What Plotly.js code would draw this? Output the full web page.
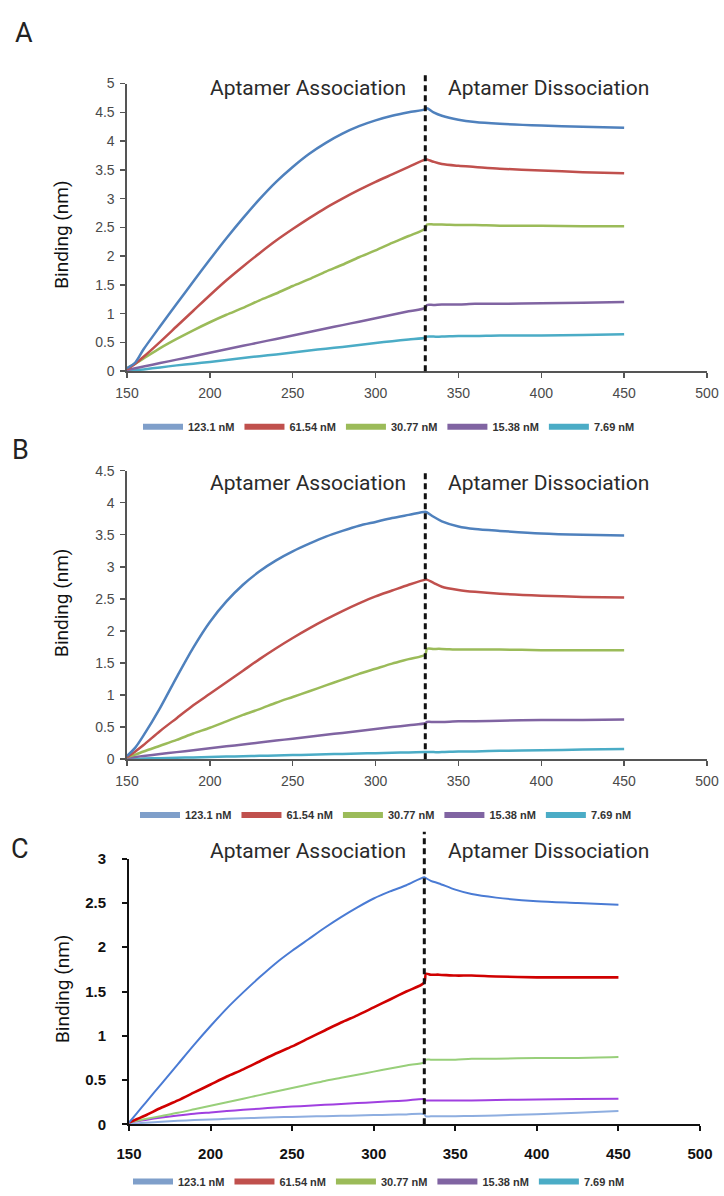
<!DOCTYPE html>
<html>
<head>
<meta charset="utf-8">
<script src="https://cdn.plot.ly/plotly-3.0.1.min.js"></script>
<style>html,body{margin:0;padding:0;background:#fff;}#chart{width:724px;height:1196px;}</style>
</head>
<body>
<div id="chart"></div>
<script>
// ---------- DATA ----------
const seriesNames = ['123.1 nM', '61.54 nM', '30.77 nM', '15.38 nM', '7.69 nM'];

// Panel A
const timeAssocA = [150,155,160,170,180,190,200,210,220,230,240,250,260,270,280,290,300,310,320,330];
const timeDissocA = [331,335,340,350,360,375,400,425,450];
const blueA_assoc   = [0.05,0.15,0.38,0.78,1.17,1.56,1.94,2.31,2.66,2.99,3.29,3.55,3.78,3.97,4.13,4.26,4.36,4.44,4.5,4.55];
const blueA_dissoc  = [4.57,4.5,4.44,4.37,4.33,4.3,4.27,4.25,4.23];
const redA_assoc    = [0.03,0.13,0.25,0.51,0.78,1.05,1.32,1.58,1.82,2.05,2.27,2.47,2.66,2.84,3.0,3.15,3.29,3.42,3.55,3.68];
const redA_dissoc   = [3.68,3.64,3.6,3.57,3.55,3.52,3.49,3.46,3.44];
const greenA_assoc  = [0.05,0.13,0.22,0.4,0.56,0.71,0.85,0.98,1.1,1.23,1.35,1.48,1.6,1.73,1.85,1.98,2.1,2.23,2.35,2.48];
const greenA_dissoc = [2.55,2.55,2.55,2.54,2.54,2.53,2.53,2.52,2.52];
const purpleA_assoc = [0.02,0.05,0.08,0.14,0.2,0.26,0.32,0.38,0.44,0.5,0.56,0.62,0.68,0.74,0.8,0.86,0.92,0.98,1.04,1.1];
const purpleA_dissoc= [1.15,1.15,1.16,1.16,1.17,1.17,1.18,1.19,1.2];
const cyanA_assoc   = [0.0,0.015,0.03,0.065,0.1,0.13,0.16,0.195,0.23,0.26,0.29,0.325,0.36,0.39,0.42,0.455,0.49,0.52,0.55,0.58];
const cyanA_dissoc  = [0.6,0.6,0.6,0.61,0.61,0.62,0.62,0.63,0.64];

// Panel B
const timeAssocB = [150,155,160,170,180,190,200,210,220,230,240,250,260,270,280,290,300,310,320,330];
const timeDissocB = [331,335,340,350,360,375,400,425,450];
const blueB_assoc   = [0.05,0.18,0.37,0.8,1.28,1.74,2.14,2.46,2.72,2.93,3.1,3.24,3.36,3.47,3.56,3.64,3.7,3.76,3.81,3.86];
const blueB_dissoc  = [3.85,3.78,3.71,3.63,3.59,3.56,3.52,3.5,3.49];
const redB_assoc    = [0.03,0.12,0.22,0.44,0.64,0.84,1.02,1.2,1.38,1.56,1.73,1.89,2.04,2.18,2.31,2.43,2.54,2.63,2.72,2.8];
const redB_dissoc   = [2.8,2.75,2.69,2.64,2.61,2.58,2.55,2.53,2.52];
const greenB_assoc  = [0.03,0.07,0.12,0.21,0.3,0.4,0.49,0.59,0.69,0.78,0.88,0.97,1.06,1.15,1.24,1.33,1.41,1.49,1.56,1.63];
const greenB_dissoc = [1.72,1.72,1.72,1.71,1.71,1.71,1.7,1.7,1.7];
const purpleB_assoc = [0.02,0.035,0.05,0.08,0.11,0.14,0.17,0.2,0.23,0.26,0.29,0.32,0.35,0.38,0.41,0.44,0.47,0.5,0.53,0.56];
const purpleB_dissoc= [0.58,0.58,0.58,0.59,0.59,0.6,0.61,0.61,0.62];
const cyanB_assoc   = [0.0,0.005,0.01,0.016,0.022,0.028,0.034,0.04,0.046,0.052,0.058,0.064,0.07,0.076,0.082,0.088,0.094,0.1,0.105,0.11];
const cyanB_dissoc  = [0.11,0.11,0.11,0.12,0.12,0.13,0.14,0.15,0.16];

// Panel C
const timeAssocC = [150,155,160,170,180,190,200,210,220,230,240,250,260,270,280,290,300,310,320,331];
const timeDissocC = [332,335,340,350,360,375,400,425,450];
const blueC_assoc   = [0.02,0.13,0.24,0.46,0.68,0.9,1.11,1.31,1.49,1.66,1.82,1.96,2.09,2.22,2.34,2.45,2.55,2.63,2.7,2.79];
const blueC_dissoc  = [2.78,2.75,2.72,2.65,2.6,2.56,2.52,2.5,2.48];
const redC_assoc    = [0.02,0.06,0.1,0.19,0.27,0.36,0.45,0.54,0.62,0.71,0.8,0.88,0.97,1.06,1.15,1.23,1.32,1.41,1.5,1.6];
const redC_dissoc   = [1.7,1.69,1.69,1.68,1.68,1.67,1.66,1.66,1.66];
const greenC_assoc  = [0.02,0.04,0.06,0.095,0.13,0.17,0.21,0.25,0.29,0.33,0.37,0.41,0.45,0.49,0.525,0.56,0.595,0.63,0.665,0.7];
const greenC_dissoc = [0.73,0.73,0.73,0.73,0.74,0.74,0.75,0.75,0.76];
const purpleC_assoc = [0.02,0.035,0.05,0.077,0.1,0.12,0.135,0.15,0.164,0.177,0.189,0.2,0.21,0.22,0.23,0.24,0.25,0.26,0.27,0.285];
const purpleC_dissoc= [0.27,0.27,0.27,0.27,0.27,0.275,0.28,0.285,0.29];
const lightC_assoc  = [0.0,0.01,0.018,0.03,0.04,0.048,0.055,0.062,0.068,0.074,0.079,0.084,0.088,0.092,0.096,0.1,0.104,0.108,0.112,0.116];
const lightC_dissoc = [0.09,0.09,0.09,0.092,0.095,0.1,0.115,0.13,0.15];

const switchTimes = [330, 330, 331];
const xTicks = [150,200,250,300,350,400,450,500];

// ---------- STYLE ----------
const W = 724, H = 1196;
const fx = p => p / W;
const fy = p => 1 - p / H;
const colorsAB = ['#4f81bd', '#c0504d', '#9bbb59', '#8064a2', '#4bacc6'];
const colorsC  = ['#4a7bd4', '#d00000', '#98cf7a', '#a040e0', '#8eaee0'];
const legendColors = ['#7f9fca', '#c0504d', '#9bbb59', '#8064a2', '#4bacc6'];

const panels = [
  {tA: timeAssocA, tD: timeDissocA, series: [[blueA_assoc,blueA_dissoc],[redA_assoc,redA_dissoc],[greenA_assoc,greenA_dissoc],[purpleA_assoc,purpleA_dissoc],[cyanA_assoc,cyanA_dissoc]], colors: colorsAB, widths:[2.5,2.5,2.5,2.5,2.5]},
  {tA: timeAssocB, tD: timeDissocB, series: [[blueB_assoc,blueB_dissoc],[redB_assoc,redB_dissoc],[greenB_assoc,greenB_dissoc],[purpleB_assoc,purpleB_dissoc],[cyanB_assoc,cyanB_dissoc]], colors: colorsAB, widths:[2.5,2.5,2.5,2.5,2.5]},
  {tA: timeAssocC, tD: timeDissocC, series: [[blueC_assoc,blueC_dissoc],[redC_assoc,redC_dissoc],[greenC_assoc,greenC_dissoc],[purpleC_assoc,purpleC_dissoc],[lightC_assoc,lightC_dissoc]], colors: colorsC, widths:[2,2.6,2,2,2]}
];

const traces = [];
panels.forEach((p, i) => {
  const ax = i === 0 ? '' : String(i + 1);
  for (let k = p.series.length - 1; k >= 0; k--) {
    traces.push({
      type: 'scatter', mode: 'lines',
      x: p.tA.concat(p.tD), y: p.series[k][0].concat(p.series[k][1]),
      xaxis: 'x' + ax, yaxis: 'y' + ax,
      line: {color: p.colors[k], width: p.widths[k], shape: 'spline', smoothing: 0.8},
      name: seriesNames[k], showlegend: false
    });
  }
  seriesNames.forEach((nm, k) => {
    traces.push({
      type: 'scatter', mode: 'lines', x: [null], y: [null],
      xaxis: 'x' + ax, yaxis: 'y' + ax,
      line: {color: legendColors[k], width: 6},
      name: nm, showlegend: true, legend: i === 0 ? 'legend' : 'legend' + (i + 1)
    });
  });
});

const tickFontAB = {family: 'Liberation Sans, Arial, sans-serif', size: 14, color: '#4a4a4a'};
const tickFontC  = {family: 'Liberation Sans, Arial, sans-serif', size: 15, color: '#111', weight: 'bold'};

function xAxis(domain, anchor, isC) {
  return {
    domain: domain, anchor: anchor, range: [150, 500], tickvals: xTicks,
    showgrid: false, zeroline: false, showline: true,
    linecolor: isC ? '#111' : '#555', linewidth: isC ? 2 : 1.6,
    ticks: 'outside', ticklen: 5, tickwidth: isC ? 2 : 1.5, tickcolor: isC ? '#111' : '#555',
    tickfont: isC ? tickFontC : tickFontAB, ticklabelstandoff: isC ? 10 : 3, fixedrange: true
  };
}
function yAxis(domain, anchor, maxV, isC) {
  return {
    domain: domain, anchor: anchor, range: [0, maxV], dtick: 0.5, tick0: 0,
    showgrid: false, zeroline: false, showline: true,
    linecolor: isC ? '#111' : '#555', linewidth: isC ? 2 : 1.6,
    ticks: 'outside', ticklen: 5, tickwidth: isC ? 2 : 1.5, tickcolor: isC ? '#111' : '#555',
    tickfont: isC ? tickFontC : tickFontAB, ticklabelstandoff: isC ? 13 : 3, fixedrange: true
  };
}

const domX_AB = [fx(127), fx(707)];
const domX_C = [fx(129), fx(700)];
const domY = [[fy(373), fy(84)], [fy(763), fy(473)], [fy(1130), fy(863)]];
const yMax = [5, 4.5, 3];

const labelFont = {family: 'Roboto, Noto Sans, sans-serif', size: 21, color: '#2a2a2a'};
const annotations = [];
const letters = ['A', 'B', 'C'];
const letterPos = [[24, 33], [20, 452], [20, 853]];
const phaseY = [88, 485, 855];
const titleY = [236, 606, 994];
letters.forEach((L, i) => {
  annotations.push({text: L, xref: 'paper', yref: 'paper', x: fx(letterPos[i][0]), y: fy(letterPos[i][1]),
    showarrow: false, xanchor: 'center', yanchor: 'middle', font: {family: 'Roboto, sans-serif', size: 27, color: '#222'}});
  annotations.push({text: 'Aptamer Association', xref: 'paper', yref: 'paper', x: fx(308), y: fy(phaseY[i]),
    showarrow: false, xanchor: 'center', yanchor: 'middle', font: labelFont});
  annotations.push({text: 'Aptamer Dissociation', xref: 'paper', yref: 'paper', x: fx(548), y: fy(phaseY[i]),
    showarrow: false, xanchor: 'center', yanchor: 'middle', font: labelFont});
  annotations.push({text: 'Binding (nm)', xref: 'paper', yref: 'paper', x: fx(62), y: fy(titleY[i]), textangle: -90,
    showarrow: false, xanchor: 'center', yanchor: 'middle', font: {family: 'Roboto, sans-serif', size: 19, color: '#111'}});
});

const dashTop = [75, 472, 836];
const dashBottom = [373, 763, 1130];
const shapes = switchTimes.map((t, i) => ({
  type: 'line', xref: i === 0 ? 'x' : 'x' + (i + 1), yref: 'paper',
  x0: t, x1: t, y0: fy(dashBottom[i]), y1: fy(dashTop[i]),
  line: {color: '#111', width: 3, dash: '6px,4px'}, layer: 'above'
}));

const legendBase = {orientation: 'h', xanchor: 'left', yanchor: 'middle', bgcolor: 'rgba(0,0,0,0)',
  font: {family: 'Liberation Sans, Arial, sans-serif', size: 11, color: '#333', weight: 'bold'},
  itemwidth: 40, tracegroupgap: 0, itemclick: false, itemdoubleclick: false};

const layout = {
  width: W, height: H, margin: {l: 0, r: 0, t: 0, b: 0},
  paper_bgcolor: '#fff', plot_bgcolor: '#fff', showlegend: true,
  xaxis: xAxis(domX_AB, 'y', false), yaxis: yAxis(domY[0], 'x', yMax[0], false),
  xaxis2: xAxis(domX_AB, 'y2', false), yaxis2: yAxis(domY[1], 'x2', yMax[1], false),
  xaxis3: xAxis(domX_C, 'y3', true), yaxis3: yAxis(domY[2], 'x3', yMax[2], true),
  legend: Object.assign({}, legendBase, {x: fx(138), y: fy(429)}),
  legend2: Object.assign({}, legendBase, {x: fx(135), y: fy(819)}),
  legend3: Object.assign({}, legendBase, {x: fx(128), y: -0.005, yanchor: 'bottom'}),
  annotations: annotations, shapes: shapes
};

Plotly.newPlot('chart', traces, layout, {displayModeBar: false, staticPlot: true});
</script>
</body>
</html>
